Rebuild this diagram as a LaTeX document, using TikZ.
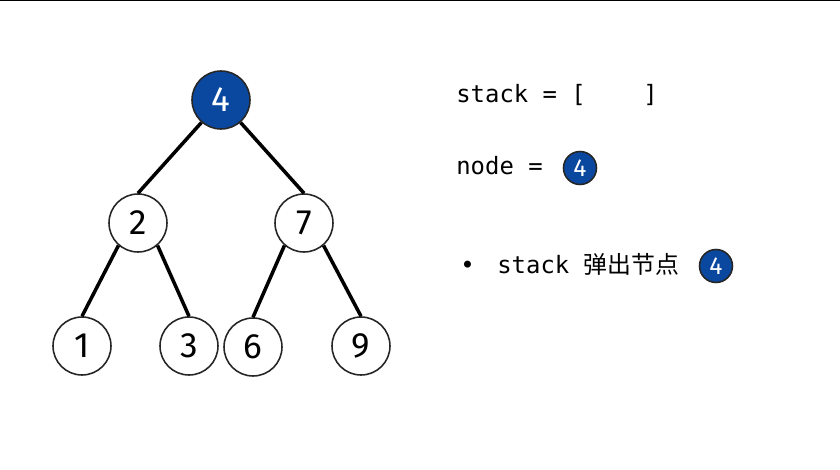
\documentclass[tikz,border=0pt]{standalone}
\usepackage{fontspec}
\setmonofont{DejaVu Sans Mono}
\newfontfamily\digitfont{Fira Sans}
\newfontfamily\cjk{Noto Sans CJK SC}
\usetikzlibrary{positioning}
\definecolor{popblue}{RGB}{10,72,160}

\tikzset{
  treenode/.style={circle,draw=black!85,line width=0.9pt,fill=white,minimum size=1.16cm,inner sep=0pt,font=\digitfont\fontsize{20}{20}\selectfont},
  popnode/.style={treenode,fill=popblue,text=white},
  minipop/.style={popnode,minimum size=0.66cm,line width=0.9pt,font=\digitfont\fontsize{14}{14}\selectfont},
  edge/.style={line width=2pt,black},
  code/.style={anchor=base west,inner sep=0pt,font=\ttfamily\fontsize{13.6}{16}\selectfont}
}

\begin{document}
\begin{tikzpicture}[x=0.02cm,y=-0.02cm]
        \useasboundingbox (0,0) rectangle (840,470);
        \draw[line width=0.85pt] (0,0.75) -- (840,0.75);

        % Tree
        \node[popnode] (n4) at (221,100) {4};
        \node[treenode] (n2) at (138,223) {2};
        \node[treenode] (n7) at (304,223) {7};
        \node[treenode] (n1) at (82,346) {1};
        \node[treenode] (n3) at (189,346) {3};
        \node[treenode] (n6) at (253,347) {6};
        \node[treenode] (n9) at (361,346) {9};

        \draw[edge] (n4.229) -- (n2.north);
        \draw[edge] (n4.311) -- (n7.north);
        \draw[edge] (n2.229) -- (n1.north);
        \draw[edge] (n2.311) -- (n3.north);
        \draw[edge] (n7.229) -- (n6.north);
        \draw[edge] (n7.311) -- (n9.north);

        % Stack state
        \node[code] (stack) at (456,102) {stack = [\ \ \ \ ]};
        \node[code] (cur) at (456,174) {node =};
        \node[minipop] (cur4) at (580,168) {4};

        \node[code] (dot) at (460,273) {\textbullet};
        \node[code] (pop) at (497,273) {stack \cjk 弹出节点};
        \node[minipop] (pop4) at (716,266) {4};
\end{tikzpicture}
\end{document}
